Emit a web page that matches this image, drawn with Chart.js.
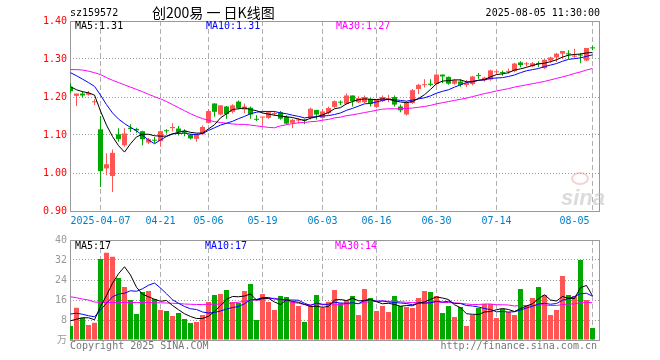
<!DOCTYPE html>
<html><head><meta charset="utf-8">
<script src="https://cdn.jsdelivr.net/npm/chart.js@4/dist/chart.umd.min.js"></script>
<style>
html,body{margin:0;padding:0;background:#fff;}
#wrap{position:relative;width:660px;height:360px;overflow:hidden;background:#fff;}
canvas{position:absolute;left:0;}
.t{position:absolute;white-space:pre;font-family:"DejaVu Sans Mono",monospace;font-size:10px;line-height:12px;color:#000;}
</style></head><body>
<div id="wrap">
<canvas id="pc" width="660" height="235" style="top:0"></canvas>
<canvas id="vc" width="660" height="130" style="top:230px"></canvas>
<div class="t" style="left:70px;top:7px;">sz159572</div>
<div class="t" style="left:152px;top:3px;font-family:'Noto Sans CJK SC',sans-serif;font-size:14px;line-height:18px;">创200易 一 日K线图</div>
<div class="t" style="right:60px;top:7px;">2025-08-05 11:30:00</div>
<div class="t" style="left:75px;top:20px;">MA5:1.31</div>
<div class="t" style="left:206px;top:20px;color:#0000ff;">MA10:1.31</div>
<div class="t" style="left:336px;top:20px;color:#ff00ff;">MA30:1.27</div>
<div class="t" style="left:75px;top:240px;">MA5:17</div>
<div class="t" style="left:205px;top:240px;color:#0000ff;">MA10:17</div>
<div class="t" style="left:335px;top:240px;color:#ff00ff;">MA30:14</div>
<div class="t" style="left:70px;top:340px;color:#777;">Copyright 2025 SINA.COM</div>
<div class="t" style="right:63px;top:340px;color:#777;">http://finance.sina.com.cn</div>
<div style="position:absolute;left:571px;top:172px;width:14px;height:9px;border:2px solid rgba(240,150,150,0.45);border-radius:50%;"></div>
<div class="t" style="left:561px;top:186px;font-family:'Liberation Sans',sans-serif;font-size:22px;line-height:24px;font-weight:bold;font-style:italic;color:rgba(190,190,190,0.55);">sina</div>
</div>
<script>
const tickIndex = [5, 15, 23, 32, 42, 51, 61, 71, 87];
const tickLabels = ['2025-04-07', '04-21', '05-06', '05-19', '06-03', '06-16', '06-30', '07-14', '08-05'];
const priceTicks = [0.9, 1.0, 1.1, 1.2, 1.3, 1.4];
const volTicks = [0, 8, 16, 24, 32, 40];

const open = [1.227,1.203,1.209,1.206,1.186,1.115,1.012,0.992,1.102,1.073,
1.119,1.116,1.110,1.080,1.087,1.084,1.112,1.118,1.117,1.111,
1.101,1.090,1.102,1.132,1.183,1.154,1.175,1.161,1.188,1.167,
1.172,1.142,1.146,1.145,1.155,1.160,1.148,1.132,1.138,1.141,
1.146,1.166,1.145,1.158,1.174,1.187,1.182,1.204,1.186,1.186,
1.195,1.174,1.189,1.194,1.200,1.175,1.154,1.184,1.221,1.231,
1.235,1.234,1.259,1.253,1.235,1.241,1.232,1.234,1.257,1.244,
1.246,1.265,1.265,1.266,1.268,1.291,1.286,1.281,1.289,1.276,
1.296,1.304,1.314,1.315,1.306,1.311,1.296,1.330];
const high = [1.236,1.209,1.215,1.216,1.194,1.150,1.052,1.062,1.118,1.118,
1.128,1.119,1.111,1.092,1.095,1.112,1.115,1.131,1.124,1.115,
1.103,1.104,1.125,1.168,1.183,1.178,1.176,1.181,1.191,1.183,
1.175,1.152,1.148,1.163,1.163,1.163,1.152,1.143,1.145,1.143,
1.172,1.166,1.168,1.175,1.191,1.191,1.209,1.204,1.202,1.204,
1.197,1.195,1.204,1.206,1.204,1.180,1.189,1.221,1.235,1.247,
1.247,1.259,1.259,1.254,1.247,1.247,1.245,1.256,1.263,1.253,
1.272,1.272,1.270,1.275,1.290,1.294,1.292,1.292,1.294,1.300,
1.306,1.316,1.321,1.323,1.327,1.316,1.329,1.335];
const low = [1.211,1.176,1.200,1.203,1.179,0.963,0.994,0.950,1.082,1.069,
1.108,1.106,1.073,1.076,1.078,1.069,1.104,1.110,1.099,1.097,
1.088,1.082,1.100,1.130,1.148,1.152,1.143,1.157,1.168,1.157,
1.143,1.137,1.125,1.143,1.150,1.140,1.127,1.118,1.131,1.128,
1.141,1.141,1.144,1.154,1.171,1.179,1.180,1.175,1.184,1.184,
1.175,1.171,1.187,1.186,1.175,1.160,1.151,1.182,1.208,1.225,
1.228,1.232,1.237,1.232,1.232,1.227,1.226,1.231,1.248,1.240,
1.243,1.259,1.256,1.261,1.265,1.278,1.280,1.278,1.278,1.274,
1.290,1.292,1.300,1.300,1.303,1.289,1.294,1.323];
const close = [1.215,1.209,1.204,1.211,1.188,1.005,1.023,1.053,1.089,1.104,
1.116,1.112,1.089,1.089,1.085,1.110,1.110,1.121,1.108,1.106,
1.091,1.101,1.121,1.163,1.161,1.178,1.155,1.178,1.171,1.175,
1.154,1.140,1.148,1.160,1.158,1.143,1.130,1.140,1.141,1.138,
1.169,1.154,1.162,1.171,1.189,1.185,1.204,1.189,1.197,1.200,
1.182,1.195,1.200,1.195,1.180,1.165,1.184,1.218,1.232,1.233,
1.232,1.259,1.254,1.235,1.244,1.232,1.237,1.254,1.255,1.251,
1.270,1.266,1.263,1.268,1.288,1.284,1.288,1.289,1.287,1.298,
1.304,1.314,1.321,1.312,1.309,1.309,1.329,1.328];
const ma5 = [1.227,1.219,1.214,1.211,1.205,1.163,1.126,1.096,1.072,1.055,
1.077,1.095,1.102,1.102,1.098,1.097,1.097,1.103,1.107,1.111,
1.107,1.105,1.105,1.116,1.127,1.145,1.156,1.167,1.169,1.171,
1.167,1.164,1.158,1.155,1.152,1.150,1.148,1.146,1.142,1.138,
1.144,1.148,1.153,1.159,1.169,1.172,1.182,1.188,1.193,1.195,
1.194,1.193,1.195,1.194,1.190,1.187,1.185,1.188,1.196,1.206,
1.220,1.235,1.242,1.243,1.245,1.245,1.240,1.240,1.244,1.246,
1.253,1.259,1.261,1.264,1.271,1.274,1.278,1.283,1.287,1.289,
1.293,1.298,1.305,1.310,1.312,1.313,1.316,1.317];
const ma10 = [1.264,1.256,1.247,1.238,1.228,1.205,1.180,1.158,1.142,1.130,
1.120,1.111,1.099,1.087,1.077,1.087,1.096,1.103,1.104,1.105,
1.102,1.101,1.104,1.112,1.119,1.126,1.131,1.136,1.143,1.149,
1.156,1.160,1.162,1.162,1.162,1.158,1.156,1.152,1.149,1.145,
1.147,1.148,1.150,1.151,1.154,1.158,1.165,1.170,1.176,1.182,
1.183,1.187,1.191,1.194,1.193,1.191,1.189,1.192,1.195,1.198,
1.203,1.210,1.215,1.219,1.226,1.232,1.238,1.241,1.244,1.245,
1.249,1.250,1.251,1.254,1.258,1.264,1.269,1.272,1.275,1.280,
1.284,1.288,1.294,1.299,1.301,1.303,1.307,1.311];
const ma30 = [1.272,1.272,1.271,1.268,1.264,1.259,1.251,1.244,1.238,1.232,
1.226,1.220,1.214,1.207,1.201,1.195,1.188,1.180,1.172,1.164,
1.156,1.149,1.143,1.139,1.135,1.133,1.131,1.129,1.128,1.128,
1.126,1.124,1.122,1.120,1.119,1.124,1.127,1.130,1.132,1.133,
1.135,1.136,1.139,1.141,1.145,1.147,1.151,1.153,1.156,1.159,
1.162,1.165,1.168,1.169,1.169,1.169,1.170,1.171,1.173,1.175,
1.178,1.182,1.185,1.188,1.191,1.194,1.197,1.201,1.205,1.209,
1.212,1.216,1.219,1.222,1.226,1.229,1.232,1.235,1.238,1.241,
1.245,1.249,1.253,1.257,1.262,1.266,1.271,1.275];
const volume = [5.6,12.9,8.9,6.0,6.9,32.4,34.9,33.3,24.8,21.2,
16.0,10.4,19.2,19.6,16.4,12.0,11.6,9.6,10.8,8.4,
6.8,7.2,10.0,15.2,18.0,18.4,20.0,15.2,14.8,19.6,
22.4,8.0,18.4,15.2,12.0,17.6,17.2,15.2,13.6,7.2,
13.6,18.0,12.9,15.3,20.0,14.7,16.0,17.6,10.0,20.4,
16.8,11.6,13.6,11.2,17.6,13.6,13.2,12.8,16.8,19.6,
19.2,17.6,10.8,13.6,9.2,13.2,5.6,10.0,12.8,14.4,
14.4,8.8,12.4,11.2,10.0,20.4,14.0,16.8,21.2,18.0,
10.0,12.0,25.6,18.0,17.6,32.0,16.0,4.8];
const vma5 = [7.7,8.3,8.9,8.9,8.1,13.4,17.8,22.7,26.5,29.3,
26.0,21.1,18.3,17.3,16.3,15.5,15.8,13.8,12.1,10.5,
9.4,8.6,8.6,9.5,11.4,13.8,16.3,17.4,17.3,17.6,
18.4,16.0,16.6,16.7,15.2,14.2,16.1,15.4,15.1,14.2,
13.4,13.5,13.1,13.4,16.0,16.2,15.8,16.7,15.7,15.7,
16.2,15.3,14.5,14.7,14.2,13.5,13.8,13.7,14.8,15.2,
16.3,17.2,16.8,16.2,14.1,12.9,10.5,10.3,10.2,11.2,
11.4,12.1,12.6,12.2,11.4,12.6,13.6,14.5,16.5,18.1,
16.0,15.6,17.4,16.7,16.6,21.0,21.8,17.7];
const vma10 = [10.4,10.7,10.3,9.7,9.3,12.0,14.7,17.3,18.4,18.7,
19.7,19.5,20.5,21.9,22.8,20.8,18.5,16.1,14.7,13.4,
12.5,12.2,11.2,10.8,11.0,11.6,12.4,13.0,13.4,14.5,
16.1,16.2,17.0,17.0,16.4,16.3,16.0,16.0,15.9,14.7,
13.8,14.8,14.3,14.3,15.1,14.8,14.7,14.9,14.5,15.9,
16.2,15.5,15.6,15.2,15.0,14.8,14.6,14.1,14.8,14.7,
14.9,15.5,15.2,15.5,14.6,14.6,13.8,13.6,13.2,12.6,
12.2,11.3,11.4,11.2,11.3,12.0,12.8,13.5,14.4,14.7,
14.3,14.6,15.9,16.6,17.4,18.5,18.7,17.5];
const vma30 = [17.3,16.9,16.4,16.0,15.2,15.0,15.0,15.0,15.0,15.0,
15.0,15.0,15.0,15.0,14.9,14.9,14.8,14.7,14.6,14.4,
14.3,14.2,14.2,14.3,14.3,14.4,14.6,14.8,15.1,15.5,
16.1,15.9,16.3,16.6,16.7,16.2,15.6,15.0,14.7,14.2,
14.1,14.4,14.2,14.0,14.1,14.2,14.4,14.6,14.6,15.0,
15.4,15.5,15.6,15.5,15.5,15.3,15.1,15.0,15.1,15.1,
15.0,15.3,15.0,15.0,14.9,14.7,14.4,14.2,14.2,14.4,
14.4,14.1,14.1,14.0,13.6,13.8,13.7,13.7,14.1,14.0,
13.8,13.8,14.2,14.4,14.4,15.0,15.1,14.9];

const RED = '#ff5555', GREEN = '#00a800';
const idx = close.map((_, i) => i);
const colors = idx.map(i => close[i] >= open[i] ? RED : GREEN);
const pts = arr => idx.map(i => ({x: i, y: arr[i]}));
const MONO = {family: "'DejaVu Sans Mono', 'Noto Sans CJK SC', monospace", size: 10};

const framePlugin = {
  id: 'frame',
  beforeDatasetsDraw(chart) {
    const {ctx, chartArea: a} = chart;
    ctx.save();
    ctx.strokeStyle = '#999';
    ctx.lineWidth = 1;
    ctx.strokeRect(a.left + 0.5, a.top + 0.5, a.right - a.left - 1, a.bottom - a.top);
    ctx.restore();
  }
};

function xAxis(showLabels, h) {
  return {
    type: 'linear', min: -1 / 12, max: 88.25, offset: false,
    afterBuildTicks: s => { s.ticks = tickIndex.map(v => ({value: v})); },
    afterFit: s => { s.height = h; },
    grid: {color: '#b0b0b0', lineWidth: 1, drawTicks: false, offset: false},
    border: {display: false, dash: [5, 3]},
    ticks: {
      display: showLabels, autoSkip: false, maxRotation: 0, minRotation: 0, padding: 4,
      color: '#0080cc', font: MONO,
      callback: (v) => {
        const k = tickIndex.indexOf(v);
        if (k < 0) return '';
        return k === tickLabels.length - 1 ? tickLabels[k] + '      ' : tickLabels[k];
      }
    }
  };
}

function lineDs(arr, color) {
  return {type: 'line', data: pts(arr), borderColor: color, borderWidth: 1, pointRadius: 0,
    tension: 0, fill: false, order: 0};
}

const common = {
  responsive: false, animation: false, events: [],
  plugins: {legend: {display: false}, tooltip: {enabled: false}}
};

new Chart(document.getElementById('pc'), {
  type: 'bar',
  data: {
    datasets: [
      {data: idx.map(i => ({x: i, y: [low[i], high[i]]})), backgroundColor: colors,
        barThickness: 1, grouped: false, inflateAmount: 0, borderWidth: 0, order: 2},
      {data: idx.map(i => ({x: i, y: [open[i], close[i]]})), backgroundColor: colors,
        barThickness: 5, grouped: false, inflateAmount: 0, borderWidth: 0, minBarLength: 1, order: 1},
      lineDs(ma5, '#000000'),
      lineDs(ma10, '#0000ff'),
      lineDs(ma30, '#ff00ff')
    ]
  },
  options: Object.assign({}, common, {
    layout: {padding: {left: 0, right: 60, top: 21, bottom: 0}},
    scales: {
      x: xAxis(true, 24),
      y: {
        min: 0.9, max: 1.4, beginAtZero: false,
        afterBuildTicks: s => { s.ticks = priceTicks.map(v => ({value: v})); },
        afterFit: s => { s.width = 70; },
        grid: {color: '#999', lineWidth: 1, drawTicks: false},
        border: {display: false, dash: [1, 2]},
        ticks: {color: '#ff0000', padding: 3, font: MONO, callback: v => Number(v).toFixed(2)}
      }
    }
  }),
  plugins: [framePlugin]
});

new Chart(document.getElementById('vc'), {
  type: 'bar',
  data: {
    datasets: [
      {data: pts(volume), backgroundColor: colors, barThickness: 5, grouped: false,
        inflateAmount: 0, borderWidth: 0, order: 1},
      lineDs(vma5, '#000000'),
      lineDs(vma10, '#0000ff'),
      lineDs(vma30, '#ff00ff')
    ]
  },
  options: Object.assign({}, common, {
    layout: {padding: {left: 0, right: 60, top: 10, bottom: 0}},
    scales: {
      x: xAxis(false, 20),
      y: {
        min: 0, max: 40, beginAtZero: true,
        afterBuildTicks: s => { s.ticks = volTicks.map(v => ({value: v})); },
        afterFit: s => { s.width = 70; },
        grid: {color: '#999', lineWidth: 1, drawTicks: false},
        border: {display: false, dash: [1, 2]},
        ticks: {color: '#999', padding: 3, font: MONO, callback: v => v === 0 ? '万' : String(v)}
      }
    }
  }),
  plugins: [framePlugin]
});
</script>
</body></html>
